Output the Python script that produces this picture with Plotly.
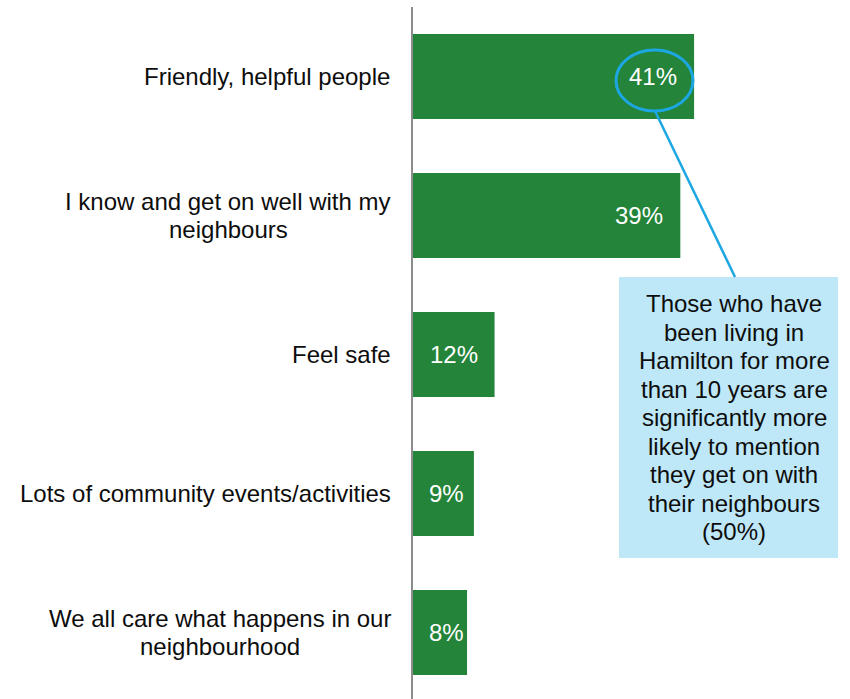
import plotly.graph_objects as go

categories = [
    "Friendly, helpful people",
    "I know and get on well with my<br>neighbours",
    "Feel safe",
    "Lots of community events/activities",
    "We all care what happens in our<br>neighbourhood",
]
values = [41, 39, 12, 9, 8]
value_labels = ["41%", "39%", "12%", "9%", "8%"]
callout_text = ("Those who have<br>been living in<br>Hamilton for more<br>than 10 years are<br>"
                "significantly more<br>likely to mention<br>they get on with<br>their neighbours<br>(50%)")

W, H = 850, 699
ML, MR, MT, MB = 412, 0, 7, 0
PX_PER_PCT = 6.88
X_MAX = (W - ML - MR) / PX_PER_PCT
CAT_STEP = 139.0
Y_BOTTOM = (H - MT - MB) / CAT_STEP - 0.5

FONT = "Liberation Sans, Arial, sans-serif"
FS = 24
LINE_H = 28.2
GREEN = "#23843A"
BLUE = "#1CA7E3"
TXT = "#0D0D0D"

# Arial / Liberation Sans advance widths (1/1000 em)
AW = {" ": 278, ",": 278, "/": 278, "%": 889, "(": 333, ")": 333,
      "I": 278, "W": 944, "F": 611, "L": 556, "H": 722, "T": 611,
      "a": 556, "b": 556, "c": 500, "d": 556, "e": 556, "f": 278, "g": 556,
      "h": 556, "i": 222, "j": 222, "k": 500, "l": 222, "m": 833, "n": 556,
      "o": 556, "p": 556, "q": 556, "r": 333, "s": 500, "t": 278, "u": 556,
      "v": 500, "w": 722, "x": 500, "y": 500, "z": 500}


def text_w(s, size):
    return sum(AW.get(ch, 556) for ch in s) / 1000 * size


ys = list(range(len(categories)))

fig = go.Figure(go.Bar(
    x=values, y=ys, orientation="h",
    marker=dict(color=GREEN, line=dict(width=0)),
    width=85 / CAT_STEP,
    hoverinfo="skip",
))

annotations = []
LABEL_RIGHT = -21  # px from the axis
for i, c in enumerate(categories):
    lines = c.split("<br>")
    n = len(lines)
    block_w = max(text_w(s, FS) for s in lines)
    for k, s in enumerate(lines):
        annotations.append(dict(
            x=0, xref="paper", y=i, yref="y", text=s, showarrow=False,
            xanchor="center", yanchor="middle",
            xshift=LABEL_RIGHT - block_w / 2,
            yshift=-(k - (n - 1) / 2) * LINE_H,
            font=dict(family=FONT, size=FS, color=TXT),
        ))

for i, (v, t) in enumerate(zip(values, value_labels)):
    est_w = text_w(t, FS)
    bar_px = v * PX_PER_PCT
    if bar_px - 16 - est_w >= 16:
        annotations.append(dict(x=v, xref="x", y=i, yref="y", text=t, showarrow=False,
                                xanchor="right", yanchor="middle", xshift=-15,
                                font=dict(family=FONT, size=FS, color="white")))
    else:
        annotations.append(dict(x=0, xref="x", y=i, yref="y", text=t, showarrow=False,
                                xanchor="left", yanchor="middle", xshift=15,
                                font=dict(family=FONT, size=FS, color="white")))

PW = W - ML - MR
PH = H - MT - MB


def px2paper_x(px):
    return (px - ML) / PW


def px2paper_y(py):
    return 1 - (py - MT) / PH


box = dict(x0=619, x1=838, y0=277, y1=558)
c_lines = callout_text.split("<br>")
nc = len(c_lines)
cx = (box["x0"] + box["x1"]) / 2 + 5.5
cy = (box["y0"] + box["y1"]) / 2
for k, s in enumerate(c_lines):
    annotations.append(dict(
        x=px2paper_x(cx), xref="paper", y=px2paper_y(cy), yref="paper",
        text=s, showarrow=False, xanchor="center", yanchor="middle",
        yshift=-(k - (nc - 1) / 2) * 28.5,
        font=dict(family=FONT, size=FS, color=TXT),
    ))

shapes = [
    dict(type="rect", xref="paper", yref="paper",
         x0=px2paper_x(box["x0"]), x1=px2paper_x(box["x1"]),
         y0=px2paper_y(box["y1"]), y1=px2paper_y(box["y0"]),
         fillcolor="#BEE7F7", line=dict(width=0), layer="below"),
    dict(type="line", xref="paper", yref="paper",
         x0=px2paper_x(655), y0=px2paper_y(111), x1=px2paper_x(735), y1=px2paper_y(277),
         line=dict(color=BLUE, width=2.5)),
    dict(type="circle", xref="paper", yref="paper",
         x0=px2paper_x(616), x1=px2paper_x(693),
         y0=px2paper_y(111), y1=px2paper_y(50),
         line=dict(color=BLUE, width=3), fillcolor="rgba(0,0,0,0)"),
    dict(type="line", xref="paper", yref="paper",
         x0=0, x1=0, y0=0, y1=1, line=dict(color="#8C8C8C", width=2)),
]

fig.update_layout(
    width=W, height=H,
    margin=dict(l=ML, r=MR, t=MT, b=MB, pad=0),
    paper_bgcolor="white", plot_bgcolor="white",
    showlegend=False,
    xaxis=dict(range=[0, X_MAX], visible=False, fixedrange=True),
    yaxis=dict(range=[Y_BOTTOM, -0.5], visible=False, fixedrange=True),
    annotations=annotations,
    shapes=shapes,
    font=dict(family=FONT),
)

fig.write_html(
    "out.html",
    config={"displayModeBar": False},
    post_script="document.body.style.margin='0';document.body.style.overflow='hidden';",
)
